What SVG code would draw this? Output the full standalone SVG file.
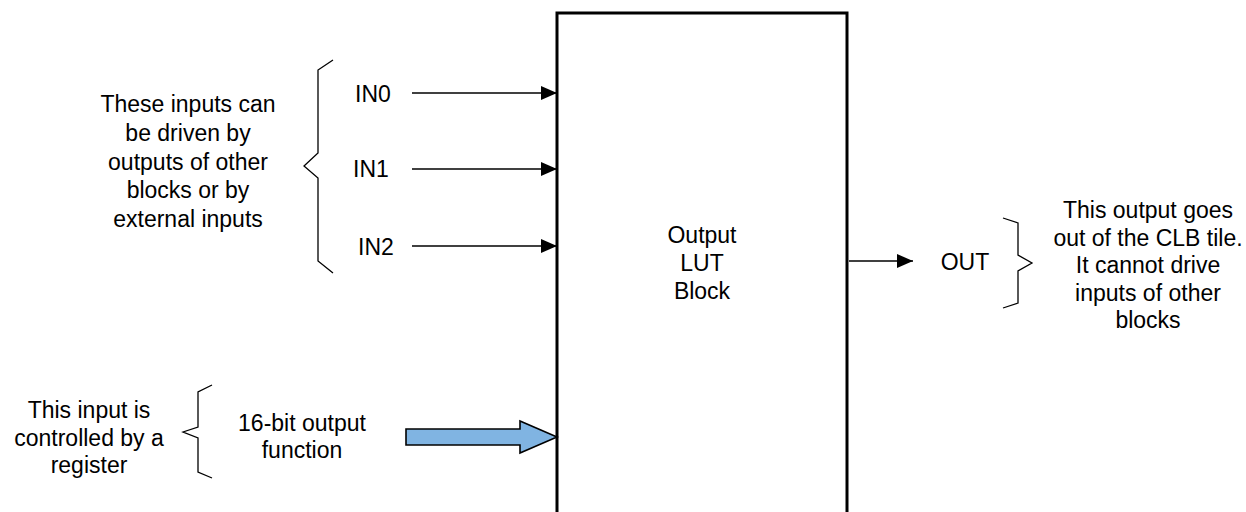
<svg xmlns="http://www.w3.org/2000/svg" width="1246" height="512" viewBox="0 0 1246 512">
<defs>
<style>
text{font-family:"Liberation Sans",Arial,sans-serif;font-size:23px;fill:#000;text-anchor:middle}
.ln{stroke:#000;stroke-width:1.6;fill:none}
.br{stroke:#000;stroke-width:1.3;fill:none}
</style>
<marker id="ah" markerWidth="16" markerHeight="14" refX="16" refY="7" orient="auto" markerUnits="userSpaceOnUse">
<path d="M0,0 L16,7 L0,14 Z" fill="#000"/>
</marker>
</defs>
<rect width="1246" height="512" fill="#fff"/>
<g id="lut-block">
<rect x="557" y="13" width="290" height="520" fill="none" stroke="#000" stroke-width="3"/>
<text x="702" y="243">Output</text>
<text x="702" y="271">LUT</text>
<text x="702" y="299">Block</text>
</g>
<g id="inputs-note">
<path class="br" d="M333,60 L318,70 L318,153 L304,166 L318,178 L318,261 L333,273"/>
<text x="188" y="112">These inputs can</text>
<text x="188" y="141">be driven by</text>
<text x="188" y="170">outputs of other</text>
<text x="188" y="198">blocks or by</text>
<text x="188" y="227">external inputs</text>
</g>
<g id="in0"><text x="373" y="102">IN0</text></g>
<g id="in1"><text x="371" y="177">IN1</text></g>
<g id="in2"><text x="376" y="255">IN2</text></g>
<g id="reg-note">
<path class="br" d="M212,385 L198,392 L198,427 L183,432 L198,438 L198,472 L212,478"/>
<text x="89" y="418">This input is</text>
<text x="89" y="446">controlled by a</text>
<text x="89" y="473">register</text>
<text x="302" y="431">16-bit output</text>
<text x="302" y="458">function</text>
</g>
<g id="out">
<text x="965" y="270">OUT</text>
<path class="br" d="M1003,218 L1018,223 L1018,255 L1032,263 L1018,271 L1018,303 L1003,308"/>
<text x="1148" y="218">This output goes</text>
<text x="1148" y="246">out of the CLB tile.</text>
<text x="1148" y="273">It cannot drive</text>
<text x="1148" y="301">inputs of other</text>
<text x="1148" y="328">blocks</text>
</g>
<g id="connectors">
<line class="ln" x1="412" y1="93" x2="557" y2="93" marker-end="url(#ah)"/>
<line class="ln" x1="412" y1="169" x2="557" y2="169" marker-end="url(#ah)"/>
<line class="ln" x1="412" y1="246" x2="557" y2="246" marker-end="url(#ah)"/>
<line class="ln" x1="849" y1="261" x2="913" y2="261" marker-end="url(#ah)"/>
<path d="M406,429 L520,429 L520,421 L557,437 L520,453 L520,445 L406,445 Z" fill="#80b4e2" stroke="#000" stroke-width="1.6"/>
</g>
</svg>
